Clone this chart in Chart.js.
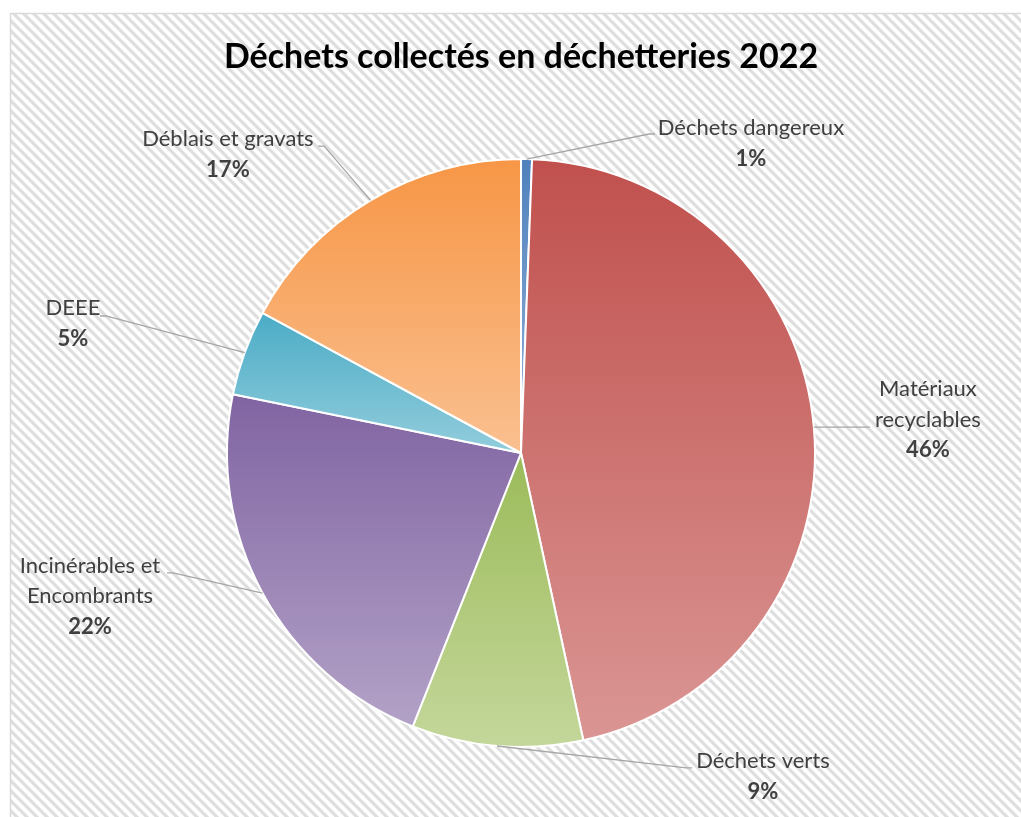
<!DOCTYPE html>
<html lang="fr">
<head>
<meta charset="utf-8">
<title>Déchets collectés en déchetteries 2022</title>
<script src="https://cdn.jsdelivr.net/npm/chart.js@4/dist/chart.umd.min.js"></script>
<style>
    html, body { margin: 0; padding: 0; background: #ffffff; }
    #wrap { width: 1021px; height: 817px; position: relative; }
</style>
</head>
<body>
<div id="wrap"><canvas id="chart"></canvas></div>
<script>
const chartTitle = 'Déchets collectés en déchetteries 2022';
const categories = [
    'Déchets dangereux',
    'Matériaux\nrecyclables',
    'Déchets verts',
    'Incinérables et\nEncombrants',
    'DEEE',
    'Déblais et gravats',
];
const shares = [0.6, 46.0, 9.4, 22.2, 4.7, 17.1];

// Excel-like theme colours: dark at the top of a slice, light at the bottom
const darkColors = ['#4F81BD', '#C0504D', '#9BBB59', '#8064A2', '#4BACC6', '#F79646'];
const lightColors = ['#95B3D7', '#DA9694', '#C4D79B', '#B3A2C7', '#92CDDC', '#FAC090'];

// label placement, in pie radii from the centre: text centre x, first line y, leader end
const labelLayout = [
    { tx: 0.782, ty: -1.105, ax: 0.456, ay: -1.085 },
    { tx: 1.384, ty: -0.218, ax: 1.187, ay: -0.088 },
    { tx: 0.823, ty: 1.048, ax: 0.582, ay: 1.071 },
    { tx: -1.466, ty: 0.384, ax: -1.204, ay: 0.408 },
    { tx: -1.524, ty: -0.493, ax: -1.432, ay: -0.466 },
    { tx: -0.997, ty: -1.068, ax: -0.690, ay: -1.044 },
];

const ARC_BORDER = 2;
const LABEL_FONT = 'Lato, "Open Sans", sans-serif';

function sliceGradient(context) {
    const chart = context.chart;
    const area = chart.chartArea;
    const i = context.dataIndex;
    if (!area) {
        return darkColors[i];
    }
    const total = shares.reduce((a, b) => a + b, 0);
    const before = shares.slice(0, i).reduce((a, b) => a + b, 0);
    const a0 = -Math.PI / 2 + (before / total) * Math.PI * 2;
    const a1 = -Math.PI / 2 + ((before + shares[i]) / total) * Math.PI * 2;
    const cx = (area.left + area.right) / 2;
    const cy = (area.top + area.bottom) / 2;
    const r = Math.max((Math.min(area.width, area.height) - ARC_BORDER) / 2, 0);

    const ys = [cy, cy + r * Math.sin(a0), cy + r * Math.sin(a1)];
    [Math.PI / 2, Math.PI * 1.5, -Math.PI / 2].forEach((a) => {
        if (a > a0 && a < a1) {
            ys.push(cy + r * Math.sin(a));
        }
    });
    const top = Math.min(...ys);
    const bottom = Math.max(...ys);
    const g = chart.ctx.createLinearGradient(0, top, 0, bottom + 0.01);
    g.addColorStop(0, darkColors[i]);
    g.addColorStop(1, lightColors[i]);
    return g;
}

function hatchPattern(ctx) {
    const size = 10;
    const tile = document.createElement('canvas');
    tile.width = size;
    tile.height = size;
    const t = tile.getContext('2d');
    t.fillStyle = '#ffffff';
    t.fillRect(0, 0, size, size);
    t.strokeStyle = '#dedede';
    t.lineWidth = 3.2;
    t.beginPath();
    t.moveTo(-2, -2);
    t.lineTo(size + 2, size + 2);
    t.moveTo(-2, size - 2);
    t.lineTo(2, size + 2);
    t.moveTo(size - 2, -2);
    t.lineTo(size + 2, 2);
    t.stroke();
    return ctx.createPattern(tile, 'repeat');
}

const backgroundPanel = {
    id: 'backgroundPanel',
    beforeDraw(chart) {
        const ctx = chart.ctx;
        ctx.save();
        ctx.fillStyle = '#ffffff';
        ctx.fillRect(0, 0, chart.width, chart.height);
        ctx.fillStyle = hatchPattern(ctx);
        ctx.fillRect(10, 13, chart.width, chart.height);
        ctx.strokeStyle = '#d9d9d9';
        ctx.lineWidth = 1.5;
        ctx.strokeRect(10.5, 13.5, chart.width + 10, chart.height + 10);
        ctx.restore();
    },
};

const outsideLabels = {
    id: 'outsideLabels',
    afterDatasetsDraw(chart) {
        const ctx = chart.ctx;
        const arcs = chart.getDatasetMeta(0).data;
        const total = shares.reduce((a, b) => a + b, 0);
        const lineH = 30.5;

        ctx.save();
        arcs.forEach((arc, i) => {
            const { x, y, startAngle, endAngle, outerRadius } = arc.getProps(['x', 'y', 'startAngle', 'endAngle', 'outerRadius'], true);
            const mid = (startAngle + endAngle) / 2;
            const lay = labelLayout[i];
            const px = x + Math.cos(mid) * outerRadius;
            const py = y + Math.sin(mid) * outerRadius;
            const ax = x + lay.ax * outerRadius;
            const ay = y + lay.ay * outerRadius;
            const stub = lay.ax > 0 ? -6 : 6;

            ctx.strokeStyle = '#a6a6a6';
            ctx.lineWidth = 1.3;
            ctx.beginPath();
            ctx.moveTo(px, py);
            ctx.lineTo(ax + stub, ay);
            ctx.lineTo(ax, ay);
            ctx.stroke();

            const tx = x + lay.tx * outerRadius;
            let ty = y + lay.ty * outerRadius;
            ctx.fillStyle = '#404040';
            ctx.textAlign = 'center';
            ctx.textBaseline = 'middle';
            ctx.font = '22px ' + LABEL_FONT;
            categories[i].split('\n').forEach((line) => {
                ctx.fillText(line, tx, ty);
                ty += lineH;
            });
            ctx.font = 'bold 22px ' + LABEL_FONT;
            ctx.fillText(Math.round(shares[i] / total * 100) + '%', tx, ty);
        });
        ctx.restore();
    },
};

new Chart(document.getElementById('chart'), {
    type: 'pie',
    data: {
        labels: categories.map((c) => c.replace('\n', ' ')),
        datasets: [{
            data: shares,
            backgroundColor: sliceGradient,
            borderColor: '#ffffff',
            borderWidth: ARC_BORDER,
        }],
    },
    options: {
        responsive: true,
        maintainAspectRatio: false,
        animation: false,
        layout: {
            padding: { left: 21, right: 0, top: 0, bottom: 69 },
        },
        plugins: {
            legend: { display: false },
            tooltip: { enabled: false },
            title: {
                display: true,
                text: chartTitle,
                color: '#000000',
                font: { family: LABEL_FONT, size: 34, weight: 'bold', lineHeight: 1.2 },
                padding: { top: 36.6, bottom: 80.6 },
            },
        },
    },
    plugins: [backgroundPanel, outsideLabels],
});
</script>
</body>
</html>
